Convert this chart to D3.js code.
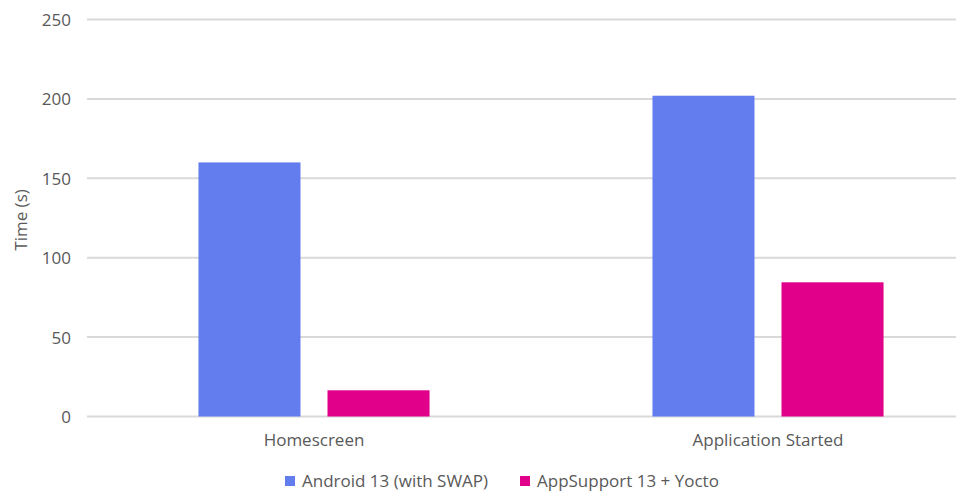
<!DOCTYPE html>
<html><head><meta charset="utf-8">
<script src="https://cdn.jsdelivr.net/npm/d3@7"></script>
<style>html,body{margin:0;padding:0;background:#fff;}svg{display:block;}</style>
</head><body>
<svg id="c" width="956" height="492"></svg>
<script>
const categories = ["Homescreen", "Application Started"];
const seriesNames = ["Android 13 (with SWAP)", "AppSupport 13 + Yocto"];
const android = [160, 202];
const appSupport = [16.5, 84.5];
const yTicks = [0, 50, 100, 150, 200, 250];
const colors = ["#637DEF", "#E0008A"];

(function () {
const svg = d3.select("#c");
const font = "'Open Sans', sans-serif";
const textColor = "#595959";
const fs = 17;
const mLeft = 87, mRight = 995, mTop = 19.5, mBottom = 416.5;

const y = d3.scaleLinear().domain([0, 250]).range([mBottom, mTop]);
const x0 = d3.scaleBand().domain(categories).range([mLeft, mRight]).paddingInner(0.491).paddingOuter(0.2455);
const x1 = d3.scaleBand().domain(seriesNames).range([0, x0.bandwidth()]).paddingInner(27/129);

// gridlines
svg.append("g").selectAll("line").data(yTicks).join("line")
  .attr("x1", mLeft).attr("x2", 956)
  .attr("y1", d => y(d)).attr("y2", d => y(d))
  .attr("stroke", "#d9d9d9").attr("stroke-width", 2);

// y axis labels
const yAxis = d3.axisLeft(y).tickValues(yTicks).tickSize(0).tickPadding(0);
const ya = svg.append("g").attr("transform", "translate(71,0)").call(yAxis);
ya.select(".domain").remove();
ya.selectAll("text").attr("font-family", font).attr("font-size", fs).attr("fill", textColor).attr("dy", "0.35em");

// y title
svg.append("text").attr("transform", "translate(20,220) rotate(-90)")
  .attr("text-anchor", "middle").attr("dominant-baseline", "central")
  .attr("font-family", font).attr("font-size", fs).attr("fill", textColor).text("Time (s)");

// bars
const data = categories.map((c, i) => ({cat: c, vals: [android[i], appSupport[i]]}));
const groups = svg.append("g").selectAll("g").data(data).join("g")
  .attr("transform", d => `translate(${x0(d.cat)},0)`);
groups.selectAll("rect").data(d => d.vals.map((v, j) => ({name: seriesNames[j], v, j}))).join("rect")
  .attr("x", d => x1(d.name)).attr("width", x1.bandwidth())
  .attr("y", d => y(d.v)).attr("height", d => y(0) - y(d.v))
  .attr("fill", d => colors[d.j]);

// x axis labels
const xAxis = d3.axisBottom(x0).tickSize(0).tickPadding(0);
const xa = svg.append("g").attr("transform", "translate(0,440)").call(xAxis);
xa.select(".domain").remove();
xa.selectAll("text").attr("font-family", font).attr("font-size", fs).attr("fill", textColor)
  .attr("dy", "0.35em").attr("y", 0);

// legend
const legendX = [285, 520];
const lg = svg.append("g").selectAll("g").data(seriesNames).join("g")
  .attr("transform", (d, i) => `translate(${legendX[i]},481)`);
lg.append("rect").attr("x", 0).attr("y", -5).attr("width", 10).attr("height", 10).attr("fill", (d, i) => colors[i]);
lg.append("text").attr("x", 17).attr("y", 0).attr("dy", "0.35em")
  .attr("font-family", font).attr("font-size", fs).attr("fill", textColor).text(d => d);
})();
</script>
</body></html>
